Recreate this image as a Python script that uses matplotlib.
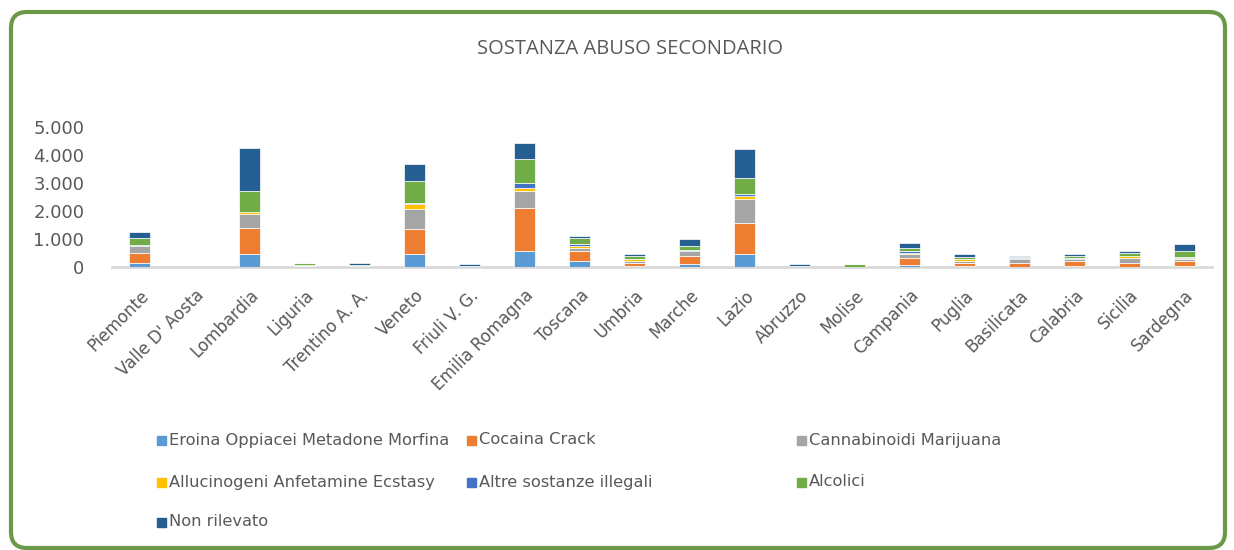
import matplotlib.pyplot as plt
from matplotlib.patches import FancyBboxPatch, Rectangle
import numpy as np

regioni = ["Piemonte", "Valle D' Aosta", "Lombardia", "Liguria", "Trentino A. A.",
           "Veneto", "Friuli V. G.", "Emilia Romagna", "Toscana", "Umbria", "Marche",
           "Lazio", "Abruzzo", "Molise", "Campania", "Puglia", "Basilicata",
           "Calabria", "Sicilia", "Sardegna"]

eroina = [155, 0, 450, 10, 10, 450, 10, 570, 210, 30, 90, 450, 10, 0, 60, 20, 10, 20, 15, 20]
cocaina = [355, 0, 950, 20, 10, 900, 10, 1550, 360, 120, 300, 1130, 10, 5, 270, 135, 145, 195, 140, 195]
cannabis = [240, 0, 480, 30, 10, 710, 10, 600, 120, 60, 180, 835, 10, 5, 120, 60, 120, 60, 175, 60]
allucinogeni = [10, 0, 70, 5, 5, 180, 5, 115, 60, 60, 10, 120, 5, 0, 60, 60, 10, 10, 60, 55]
altre = [10, 0, 10, 5, 5, 60, 5, 180, 60, 20, 10, 60, 5, 0, 60, 20, 20, 50, 20, 10]
alcolici = [280, 0, 750, 80, 20, 770, 10, 835, 235, 100, 160, 595, 10, 80, 120, 60, 40, 60, 100, 230]
non_rilevato = [195, 0, 1530, 10, 90, 600, 40, 585, 60, 60, 240, 1010, 50, 0, 180, 100, 45, 60, 60, 240]

serie = ["Eroina Oppiacei Metadone Morfina", "Cocaina Crack", "Cannabinoidi Marijuana",
         "Allucinogeni Anfetamine Ecstasy", "Altre sostanze illegali", "Alcolici",
         "Non rilevato"]
valori = [eroina, cocaina, cannabis, allucinogeni, altre, alcolici, non_rilevato]
colori = ["#5B9BD5", "#ED7D31", "#A5A5A5", "#FFC000", "#4472C4", "#70AD47", "#255E91"]

fig = plt.figure(figsize=(12.34, 5.5), dpi=100)
W, H = 1234, 550

# cornice verde arrotondata (coordinate in pollici)
fig.patches.append(FancyBboxPatch((0.11, 0.02), 12.14, 5.36,
                                  boxstyle="round,pad=0,rounding_size=0.16",
                                  transform=fig.dpi_scale_trans, fill=False,
                                  edgecolor="#6A9A48", linewidth=3))

ax = fig.add_axes([112 / W, 1 - 267 / H, 1100 / W, 140 / H])
x = np.arange(len(regioni))
bottom = np.zeros(len(regioni))
for nome, vals, col in zip(serie, valori, colori):
    ax.bar(x, vals, 0.38, bottom=bottom, color=col, edgecolor="white", linewidth=0.5,
           zorder=2)
    bottom += np.array(vals)

ax.set_xlim(-0.5, len(regioni) - 0.5)
ax.set_ylim(0, 5000)
ax.set_yticks([0, 1000, 2000, 3000, 4000, 5000])
ax.set_yticklabels(["0", "1.000", "2.000", "3.000", "4.000", "5.000"])
ax.set_xticks(x)
ax.set_xticklabels(regioni, rotation=45, ha="right", rotation_mode="anchor")
for s in ["top", "right", "left"]:
    ax.spines[s].set_visible(False)
ax.spines["bottom"].set_color("#D9D9D9")
ax.spines["bottom"].set_linewidth(2)
ax.spines["bottom"].set_zorder(1)
ax.tick_params(axis="both", length=0, colors="#595959")
ax.tick_params(axis="y", pad=20, labelsize=13)
ax.tick_params(axis="x", pad=14, labelsize=12)

fig.text(630 / W, 1 - 49 / H, "SOSTANZA ABUSO SECONDARIO", ha="center", va="center",
         fontsize=14.5, color="#595959", family="Open Sans")

# legenda manuale
pos = [(157, 440), (467, 440), (797, 440), (157, 482), (467, 482), (797, 482), (157, 522)]
for (px, py), nome, col in zip(pos, serie, colori):
    fig.patches.append(Rectangle((px / W, 1 - (py + 4.5) / H), 9 / W, 9 / H,
                                 transform=fig.transFigure, color=col))
    fig.text((px + 12) / W, 1 - py / H, nome, ha="left", va="center",
             fontsize=11.7, color="#595959")

fig.savefig("out.png", dpi=100, facecolor="white")
